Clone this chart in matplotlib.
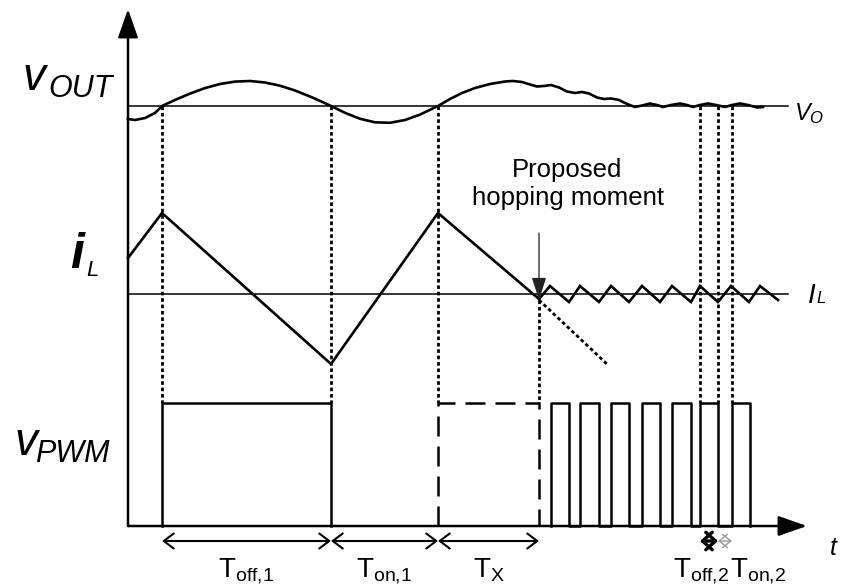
import matplotlib
matplotlib.use('Agg')
import matplotlib.pyplot as plt

plt.rcParams['font.family'] = ['Liberation Sans', 'DejaVu Sans']
plt.rcParams['mathtext.fontset'] = 'custom'
plt.rcParams['mathtext.rm'] = 'Liberation Sans'
plt.rcParams['mathtext.it'] = 'Liberation Sans:italic'

# Todo en coordenadas de pixel del lienzo 841x588 (y hacia abajo)
AX_X0, AX_Y0 = 128, 526      # origen de los ejes
AX_TOP, AX_RIGHT = 9, 807    # puntas de flecha
VO_LEVEL = 106               # nivel V_O
IL_LEVEL = 294               # nivel I_L
PWM_HIGH = 403               # nivel alto de v_PWM
REF_END = 788                # fin de las lineas de referencia

# v_OUT
vout_x = [128, 135, 145, 155, 162, 175, 190, 205, 220, 235, 250, 265, 280, 295, 310, 320,
          331, 345, 360, 375, 390, 405, 420, 438, 450, 462, 475, 490, 505, 513, 522, 530,
          537, 544, 551, 559, 567, 575, 582, 589, 597, 604, 611, 619, 627, 635, 642, 650,
          657, 663, 671, 680, 687, 693, 700, 708, 716, 725, 732, 740, 748, 757, 763]
vout_y = [119, 120, 118, 113, 106, 100, 93.6, 88.1, 84, 81.6, 81, 82.5, 85.7, 90.5, 96.5, 100.9,
          106, 112.8, 118.8, 122.3, 122.8, 120, 114.6, 106, 99, 93, 88, 84, 81.5, 81, 82, 84.5,
          86.5, 86, 85, 87.5, 91.5, 93, 92, 93.5, 97.5, 99, 98.5, 100, 104, 107, 105.5, 103.5,
          105, 107, 105, 103.5, 105, 107, 105, 103.5, 105, 107, 105, 103.5, 105, 107.5, 107]

# i_L
il_x = [128, 162, 331, 438, 539, 550, 569, 580, 599, 611, 629, 642, 660, 672, 691,
        700, 718, 731, 749, 760, 778]
il_y = [258, 213, 364, 213, 299, 286, 302, 286, 302, 286, 302, 286, 302, 286, 302,
        286, 302, 286, 302, 286, 300]
il_ext_x = [539, 608]          # continuacion punteada sin salto
il_ext_y = [300, 365]

# v_PWM
first_pulse = (162, 331)
dashed_pulse = (438, 539)
pulse_on = [551, 580, 611, 642, 672, 700, 732]
pulse_off = [569, 599, 629, 660, 691, 718, 750]

# lineas verticales punteadas: (x, y inicio, y fin)
guides = [(162, 106, 403), (331, 106, 403), (438, 106, 403), (539, 300, 403),
          (700, 106, 403), (718, 106, 403), (732, 106, 403)]

# intervalos bajo el eje
spans = [(162, 331, r'$\mathrm{T}_{\mathrm{off{,}1}}$'),
         (331, 438, r'$\mathrm{T}_{\mathrm{on{,}1}}$'),
         (438, 539, r'$\mathrm{T}_{\mathrm{X}}$')]
SPAN_Y = 541

fig = plt.figure(figsize=(8.41, 5.88), dpi=100)
ax = fig.add_axes([0, 0, 1, 1])
ax.set_xlim(0, 841)
ax.set_ylim(588, 0)
ax.axis('off')

dotted = (0, (1.3, 1.0))
dashed = (0, (8, 4))

# ejes con flechas
axis_arrow = dict(arrowstyle='-|>,head_length=0.8,head_width=0.28', lw=1.8,
                  color='black', mutation_scale=22, shrinkA=0, shrinkB=0)
ax.annotate('', xy=(AX_X0, AX_TOP), xytext=(AX_X0, AX_Y0), arrowprops=axis_arrow)
ax.annotate('', xy=(AX_RIGHT, AX_Y0), xytext=(AX_X0, AX_Y0), arrowprops=axis_arrow)

# referencias V_O e I_L
ax.plot([AX_X0, REF_END], [VO_LEVEL, VO_LEVEL], color='black', lw=1.1)
ax.plot([AX_X0, REF_END], [IL_LEVEL, IL_LEVEL], color='black', lw=1.1)

# curvas
ax.plot(vout_x, vout_y, color='black', lw=1.9, solid_joinstyle='round')
ax.plot(il_x, il_y, color='black', lw=1.9, solid_joinstyle='miter')
ax.plot(il_ext_x, il_ext_y, color='black', lw=2.0, linestyle=dotted)

# guias punteadas
for gx, y0, y1 in guides:
    ax.plot([gx, gx], [y0, y1], color='black', lw=2.0, linestyle=dotted)

# pulso 1 (solido) y pulso propuesto (discontinuo)
s, e = first_pulse
ax.plot([s, s, e, e], [AX_Y0, PWM_HIGH, PWM_HIGH, AX_Y0], color='black', lw=1.8)
s, e = dashed_pulse
ax.plot([s, s, e, e], [AX_Y0, PWM_HIGH, PWM_HIGH, AX_Y0], color='black', lw=1.8,
        linestyle=dashed)

# tren de pulsos
px, py = [], []
for s, e in zip(pulse_on, pulse_off):
    px += [s, s, e, e]
    py += [AX_Y0, PWM_HIGH, PWM_HIGH, AX_Y0]
ax.plot(px, py, color='black', lw=1.8)

# intervalos de tiempo
span_arrow = dict(arrowstyle='<->,head_length=0.4,head_width=0.3', lw=1.5,
                  color='black', mutation_scale=18, shrinkA=0, shrinkB=0)
for s, e, lab in spans:
    ax.annotate('', xy=(e, SPAN_Y), xytext=(s, SPAN_Y), arrowprops=span_arrow)
    ax.text((s + e) / 2, 577, lab, fontsize=20, ha='center', va='baseline')

ax.annotate('', xy=(718, SPAN_Y), xytext=(700, SPAN_Y),
            arrowprops=dict(arrowstyle='<->,head_length=0.5,head_width=0.45', lw=2.4,
                            color='black', mutation_scale=14, shrinkA=0, shrinkB=0))
ax.annotate('', xy=(732, SPAN_Y), xytext=(718, SPAN_Y),
            arrowprops=dict(arrowstyle='<->,head_length=0.5,head_width=0.4', lw=1.0,
                            color='#999999', mutation_scale=12, shrinkA=0, shrinkB=0))
ax.text(701, 577, r'$\mathrm{T}_{\mathrm{off{,}2}}$', fontsize=20, ha='center', va='baseline')
ax.text(758, 577, r'$\mathrm{T}_{\mathrm{on{,}2}}$', fontsize=20, ha='center', va='baseline')

# momento de salto propuesto
ax.annotate('', xy=(539, 300), xytext=(539, 233),
            arrowprops=dict(arrowstyle='-|>,head_length=1.4,head_width=0.45', lw=0.9,
                            color='#222222', mutation_scale=10, shrinkA=0, shrinkB=0))
ax.text(567, 177, 'Proposed', fontsize=18.5, ha='center', va='baseline')
ax.text(568, 205, 'hopping moment', fontsize=18.5, ha='center', va='baseline')

# etiquetas de las senales
ax.text(22, 90, 'v', fontsize=33, style='italic', ha='left', va='baseline')
ax.text(48, 97, 'OUT', fontsize=22, style='italic', ha='left', va='baseline')
ax.text(70, 268, 'i', fontsize=36, style='italic', weight='bold', ha='left', va='baseline')
ax.text(86, 276, 'L', fontsize=16, style='italic', ha='left', va='baseline')
ax.text(14, 455, 'v', fontsize=33, style='italic', ha='left', va='baseline')
ax.text(35, 462, 'PWM', fontsize=22, style='italic', ha='left', va='baseline')

ax.text(795, 120, 'V', fontsize=17, style='italic', ha='left', va='baseline')
ax.text(809, 123, 'O', fontsize=12, style='italic', ha='left', va='baseline')
ax.text(808, 303, 'I', fontsize=20, style='italic', ha='left', va='baseline')
ax.text(816, 303, 'L', fontsize=12, style='italic', ha='left', va='baseline')
ax.text(830, 555, 't', fontsize=18, style='italic', ha='left', va='baseline')

fig.savefig('out.png', dpi=100)
